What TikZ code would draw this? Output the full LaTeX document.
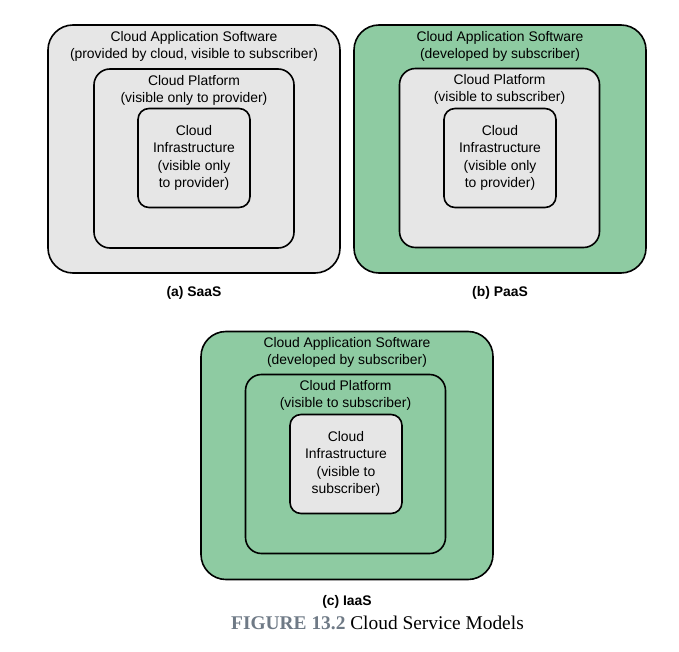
\documentclass[tikz,border=0pt]{standalone}
\usepackage{fontspec}
\setmainfont{Liberation Sans}
\newfontfamily\capfont{Liberation Serif}
\usepackage{xcolor}
\usetikzlibrary{positioning}
\definecolor{cloudgreen}{HTML}{8ECBA2}
\definecolor{cloudgray}{HTML}{E6E6E6}
\definecolor{figgray}{HTML}{6F7A86}

\begin{document}
\begin{tikzpicture}[x=1pt, y=-1pt,
  layer/.style={draw, line width=1.6pt, rectangle, inner sep=0pt},
  appbox/.style={layer, minimum width=292pt, minimum height=248pt,
    rounded corners=25pt},
  platbox/.style={layer, minimum width=200pt, minimum height=179pt,
    rounded corners=16pt},
  infbox/.style={layer, minimum width=112pt, minimum height=99pt,
    rounded corners=11pt, align=center,
    font=\fontsize{13.9}{17.4}\selectfont},
  txt/.style={align=center, inner sep=0pt,
    font=\fontsize{13.9}{17}\selectfont},
  sub/.style={inner sep=0pt, font=\fontsize{13.9}{16}\selectfont\bfseries}
]
\useasboundingbox (0,0) rectangle (679,652);

% (a) SaaS
\node[appbox, fill=cloudgray] (saasApp) at (194,149) {};
\node[txt, below=7pt of saasApp.north] (saasAppTxt)
  {Cloud Application Software\\(provided by cloud, visible to subscriber)};
\node[platbox, fill=cloudgray] (saasPlat) at (194,158.5) {};
\node[txt, below=7pt of saasPlat.north] (saasPlatTxt)
  {Cloud Platform\\(visible only to provider)};
\node[infbox, fill=cloudgray] (saasInf) at (194,158)
  {Cloud\\Infrastructure\\(visible only\\to provider)};
\node[sub, below=12pt of saasApp] (saasLbl) {(a) SaaS};

% (b) PaaS
\node[appbox, fill=cloudgreen] (paasApp) at (500,149) {};
\node[txt, below=7pt of paasApp.north] (paasAppTxt)
  {Cloud Application Software\\(developed by subscriber)};
\node[platbox, fill=cloudgray] (paasPlat) at (499.5,158) {};
\node[txt, below=7pt of paasPlat.north] (paasPlatTxt)
  {Cloud Platform\\(visible to subscriber)};
\node[infbox, fill=cloudgray] (paasInf) at (500,158)
  {Cloud\\Infrastructure\\(visible only\\to provider)};
\node[sub, below=12pt of paasApp] (paasLbl) {(b) PaaS};

% (c) IaaS
\node[appbox, fill=cloudgreen] (iaasApp) at (347,455.5) {};
\node[txt, below=7pt of iaasApp.north] (iaasAppTxt)
  {Cloud Application Software\\(developed by subscriber)};
\node[platbox, fill=cloudgreen] (iaasPlat) at (345.5,464) {};
\node[txt, below=7pt of iaasPlat.north] (iaasPlatTxt)
  {Cloud Platform\\(visible to subscriber)};
\node[infbox, fill=cloudgray] (iaasInf) at (346,464)
  {Cloud\\Infrastructure\\(visible to\\subscriber)};
\node[sub, below=15pt of iaasApp] (iaasLbl) {(c) IaaS};

% caption
\node[anchor=base, inner sep=0pt, font=\capfont\fontsize{19.4}{21}\selectfont]
  (figCap) at (377.5,629.5)
  {\textcolor{figgray}{\bfseries FIGURE 13.2} Cloud Service Models};

\end{tikzpicture}
\end{document}
